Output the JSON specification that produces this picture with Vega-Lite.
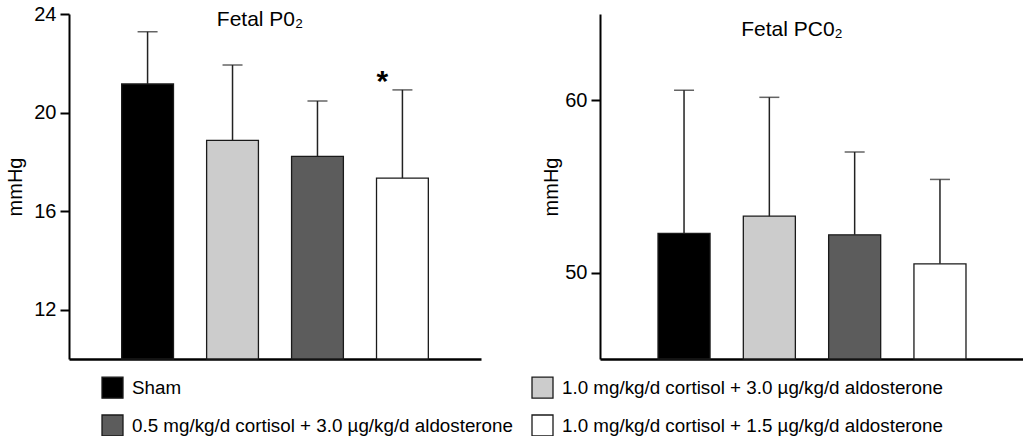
{
  "$schema": "https://vega.github.io/schema/vega-lite/v6.json",
  "background": "white",
  "padding": {"left": 5, "top": 4, "right": 0, "bottom": 0},
  "spacing": 60,
  "config": {
    "font": "Liberation Sans",
    "view": {"stroke": null},
    "axis": {
      "grid": false,
      "domainColor": "black",
      "domainWidth": 2,
      "tickColor": "black",
      "tickWidth": 2,
      "tickSize": 9,
      "labelFont": "Liberation Sans",
      "labelFontSize": 20,
      "labelColor": "black",
      "labelPadding": 4,
      "titleFont": "Liberation Sans",
      "titleFontSize": 20,
      "titleFontWeight": "normal",
      "titleColor": "black"
    },
    "title": {"font": "Liberation Sans", "fontSize": 21, "fontWeight": "normal", "color": "black"}
  },
  "data": {
    "values": [
      {"measure": "PO2", "group": "Sham", "mean": 21.16, "hi": 23.28, "sig": ""},
      {"measure": "PO2", "group": "1.0 mg/kg/d cortisol + 3.0 µg/kg/d aldosterone", "mean": 18.87, "hi": 21.93, "sig": ""},
      {"measure": "PO2", "group": "0.5 mg/kg/d cortisol + 3.0 µg/kg/d aldosterone", "mean": 18.22, "hi": 20.47, "sig": ""},
      {"measure": "PO2", "group": "1.0 mg/kg/d cortisol + 1.5 µg/kg/d aldosterone", "mean": 17.34, "hi": 20.92, "sig": "*"},
      {"measure": "PCO2", "group": "Sham", "mean": 52.28, "hi": 60.58, "sig": ""},
      {"measure": "PCO2", "group": "1.0 mg/kg/d cortisol + 3.0 µg/kg/d aldosterone", "mean": 53.28, "hi": 60.17, "sig": ""},
      {"measure": "PCO2", "group": "0.5 mg/kg/d cortisol + 3.0 µg/kg/d aldosterone", "mean": 52.2, "hi": 57.0, "sig": ""},
      {"measure": "PCO2", "group": "1.0 mg/kg/d cortisol + 1.5 µg/kg/d aldosterone", "mean": 50.52, "hi": 55.41, "sig": ""}
    ]
  },
  "resolve": {"scale": {"color": "shared"}, "legend": {"color": "shared"}},
  "hconcat": [
    {
      "width": 412,
      "height": 345,
      "title": {"text": "Fetal P0₂", "offset": -26, "dx": -15},
      "transform": [{"filter": "datum.measure === 'PO2'"}],
      "encoding": {
        "x": {
          "field": "group",
          "type": "nominal",
          "sort": [
            "Sham",
            "1.0 mg/kg/d cortisol + 3.0 µg/kg/d aldosterone",
            "0.5 mg/kg/d cortisol + 3.0 µg/kg/d aldosterone",
            "1.0 mg/kg/d cortisol + 1.5 µg/kg/d aldosterone"
          ],
          "scale": {"paddingInner": 0.39, "paddingOuter": 0.62},
          "axis": {"title": null, "labels": false, "ticks": false, "domainWidth": 2.5}
        }
      },
      "layer": [
        {
          "mark": {"type": "bar", "stroke": "#1a1a1a", "strokeWidth": 1.3},
          "encoding": {
            "y": {
              "field": "mean",
              "type": "quantitative",
              "scale": {"domain": [10, 24], "nice": false, "zero": false},
              "axis": {"values": [12, 16, 20, 24], "title": "mmHg", "titlePadding": 8}
            },
            "y2": {"datum": 10},
            "color": {
              "field": "group",
              "type": "nominal",
              "scale": {
                "domain": [
                  "Sham",
                  "0.5 mg/kg/d cortisol + 3.0 µg/kg/d aldosterone",
                  "1.0 mg/kg/d cortisol + 3.0 µg/kg/d aldosterone",
                  "1.0 mg/kg/d cortisol + 1.5 µg/kg/d aldosterone"
                ],
                "range": ["#000000", "#5c5c5c", "#cccccc", "#ffffff"]
              },
              "legend": {
                "title": null,
                "orient": "none",
                "legendX": 32,
                "legendY": 362,
                "columns": 2,
                "padding": 0,
                "symbolType": "square",
                "symbolSize": 441,
                "symbolStrokeColor": "#333333",
                "symbolStrokeWidth": 1.3,
                "symbolOpacity": 1,
                "labelFont": "Liberation Sans",
                "labelFontSize": 18.8,
                "labelColor": "black",
                "labelLimit": 600,
                "labelOffset": 8,
                "rowPadding": 11,
                "columnPadding": 16
              }
            }
          }
        },
        {
          "mark": {"type": "rule", "color": "#222222", "strokeWidth": 1.5},
          "encoding": {
            "y": {"field": "mean", "type": "quantitative"},
            "y2": {"field": "hi"}
          }
        },
        {
          "mark": {"type": "tick", "color": "#222222", "thickness": 1.5, "size": 20},
          "encoding": {"y": {"field": "hi", "type": "quantitative"}}
        },
        {
          "mark": {"type": "text", "fontSize": 30, "fontWeight": "bold", "baseline": "alphabetic", "dx": -20, "dy": 1, "color": "black"},
          "encoding": {
            "y": {"field": "hi", "type": "quantitative"},
            "text": {"field": "sig"}
          }
        }
      ]
    },
    {
      "width": 424,
      "height": 345,
      "title": {"text": "Fetal PC0₂", "offset": -26, "dx": -20},
      "transform": [{"filter": "datum.measure === 'PCO2'"}],
      "encoding": {
        "x": {
          "field": "group",
          "type": "nominal",
          "sort": [
            "Sham",
            "1.0 mg/kg/d cortisol + 3.0 µg/kg/d aldosterone",
            "0.5 mg/kg/d cortisol + 3.0 µg/kg/d aldosterone",
            "1.0 mg/kg/d cortisol + 1.5 µg/kg/d aldosterone"
          ],
          "scale": {"paddingInner": 0.39, "paddingOuter": 0.68},
          "axis": {"title": null, "labels": false, "ticks": false, "domainWidth": 2.5}
        }
      },
      "layer": [
        {
          "mark": {"type": "bar", "stroke": "#1a1a1a", "strokeWidth": 1.3},
          "encoding": {
            "y": {
              "field": "mean",
              "type": "quantitative",
              "scale": {"domain": [45, 65], "nice": false, "zero": false},
              "axis": {"values": [50, 60], "title": "mmHg", "titlePadding": 3}
            },
            "y2": {"datum": 45},
            "color": {"field": "group", "type": "nominal"}
          }
        },
        {
          "mark": {"type": "rule", "color": "#222222", "strokeWidth": 1.5},
          "encoding": {
            "y": {"field": "mean", "type": "quantitative"},
            "y2": {"field": "hi"}
          }
        },
        {
          "mark": {"type": "tick", "color": "#222222", "thickness": 1.5, "size": 20},
          "encoding": {"y": {"field": "hi", "type": "quantitative"}}
        }
      ]
    }
  ]
}
